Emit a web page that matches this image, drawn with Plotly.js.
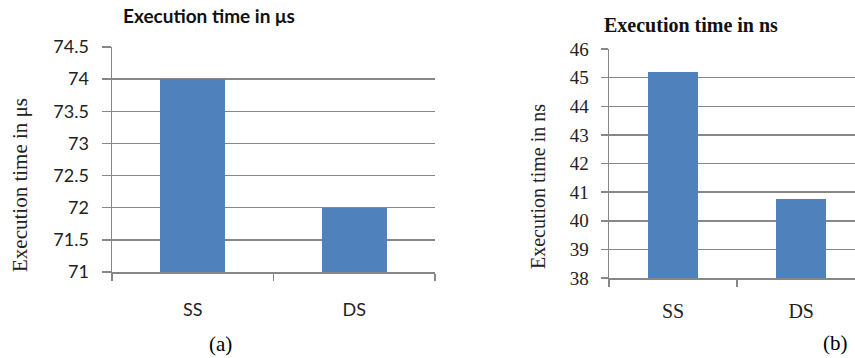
<!DOCTYPE html>
<html><head><meta charset="utf-8">
<script src="https://cdn.plot.ly/plotly-3.0.1.min.js"></script>
<style>html,body{margin:0;padding:0;background:#fff}</style>
</head><body>
<div id="chart" style="width:855px;height:358px"></div>
<script>
const categories = ["SS", "DS"];
const timesUs = [74, 72];
const timesNs = [45.2, 40.77];
const ticksA = [71, 71.5, 72, 72.5, 73, 73.5, 74, 74.5];
const ticksB = [38, 39, 40, 41, 42, 43, 44, 45, 46];

const barColor = "#4F81BD";
const gridColor = "#878787";

const data = [
  {type: "bar", x: categories, y: timesUs, xaxis: "x", yaxis: "y", width: 0.4,
   marker: {color: barColor}, hoverinfo: "skip"},
  {type: "bar", x: categories, y: timesNs, xaxis: "x2", yaxis: "y2", width: 0.39,
   marker: {color: barColor}, hoverinfo: "skip"}
];

const sansTick = {family: "Lato, 'Open Sans', sans-serif", size: 18, color: "#222"};
const serifTick = {family: "'Liberation Serif', 'DejaVu Serif', serif", size: 19, color: "#222"};

const layout = {
  width: 855, height: 358, autosize: false,
  margin: {l: 0, r: 0, t: 0, b: 0},
  paper_bgcolor: "#fff", plot_bgcolor: "#fff",
  showlegend: false, bargap: 0,
  xaxis: {domain: [112/855, 435/855], type: "category", range: [-0.5, 1.5],
    showline: true, linecolor: gridColor, linewidth: 1.5,
    ticks: "outside", tickson: "boundaries", ticklen: 7, tickcolor: gridColor, tickwidth: 1.5,
    showgrid: false, tickfont: {family: "Lato, 'Open Sans', sans-serif", size: 18, color: "#222"},
    ticklabelstandoff: 21, fixedrange: true},
  yaxis: {domain: [(358-272)/358, (358-47)/358], range: [71, 74.5],
    tickmode: "array", tickvals: ticksA, ticktext: ticksA.map(String),
    showline: true, linecolor: gridColor, linewidth: 1.5,
    ticks: "outside", ticklen: 9, tickcolor: gridColor, tickwidth: 1.5,
    showgrid: true, gridcolor: gridColor, gridwidth: 1.5, zeroline: false,
    tickfont: sansTick, ticklabelstandoff: 9, fixedrange: true},
  xaxis2: {domain: [609/855, 1], type: "category", range: [-0.5, 1.42], anchor: "y2",
    showline: true, linecolor: gridColor, linewidth: 1.5,
    ticks: "outside", tickson: "boundaries", ticklen: 7, tickcolor: gridColor, tickwidth: 1.5,
    showgrid: false, tickfont: {family: "'Liberation Serif', serif", size: 20, color: "#222"},
    ticklabelstandoff: 14, fixedrange: true},
  yaxis2: {domain: [(358-278)/358, (358-49)/358], range: [38, 46], anchor: "x2",
    tickmode: "array", tickvals: ticksB, ticktext: ticksB.map(String),
    showline: true, linecolor: gridColor, linewidth: 1.5,
    ticks: "outside", ticklen: 7, tickcolor: gridColor, tickwidth: 1.5,
    showgrid: true, gridcolor: gridColor, gridwidth: 1.5, zeroline: false,
    tickfont: serifTick, ticklabelstandoff: 8, fixedrange: true},
  annotations: [
    {text: "<b>Execution time in μs</b>", xref: "paper", yref: "paper",
     x: 209/855, y: 1 - 15/358, xanchor: "center", yanchor: "middle", showarrow: false,
     font: {family: "Lato, 'Open Sans', sans-serif", size: 19, color: "#111"}},
    {text: "<b>Execution time in ns</b>", xref: "paper", yref: "paper",
     x: 691/855, y: 1 - 25/358, xanchor: "center", yanchor: "middle", showarrow: false,
     font: {family: "'Liberation Serif', serif", size: 20, color: "#111"}},
    {text: "Execution time in μs", xref: "paper", yref: "paper", textangle: -90,
     x: 20/855, y: 1 - 185/358, xanchor: "center", yanchor: "middle", showarrow: false,
     font: {family: "'Liberation Serif', serif", size: 21, color: "#222"}},
    {text: "Execution time in ns", xref: "paper", yref: "paper", textangle: -90,
     x: 538/855, y: 1 - 187/358, xanchor: "center", yanchor: "middle", showarrow: false,
     font: {family: "'Liberation Serif', serif", size: 20, color: "#222"}},
    {text: "(a)", xref: "paper", yref: "paper",
     x: 220/855, y: 1 - 344/358, xanchor: "center", yanchor: "middle", showarrow: false,
     font: {family: "'Liberation Serif', serif", size: 21, color: "#000"}},
    {text: "(b)", xref: "paper", yref: "paper",
     x: 835/855, y: 1 - 343/358, xanchor: "center", yanchor: "middle", showarrow: false,
     font: {family: "'Liberation Serif', serif", size: 21, color: "#000"}}
  ]
};

Plotly.newPlot("chart", data, layout, {staticPlot: true, displayModeBar: false});
</script>
</body></html>
